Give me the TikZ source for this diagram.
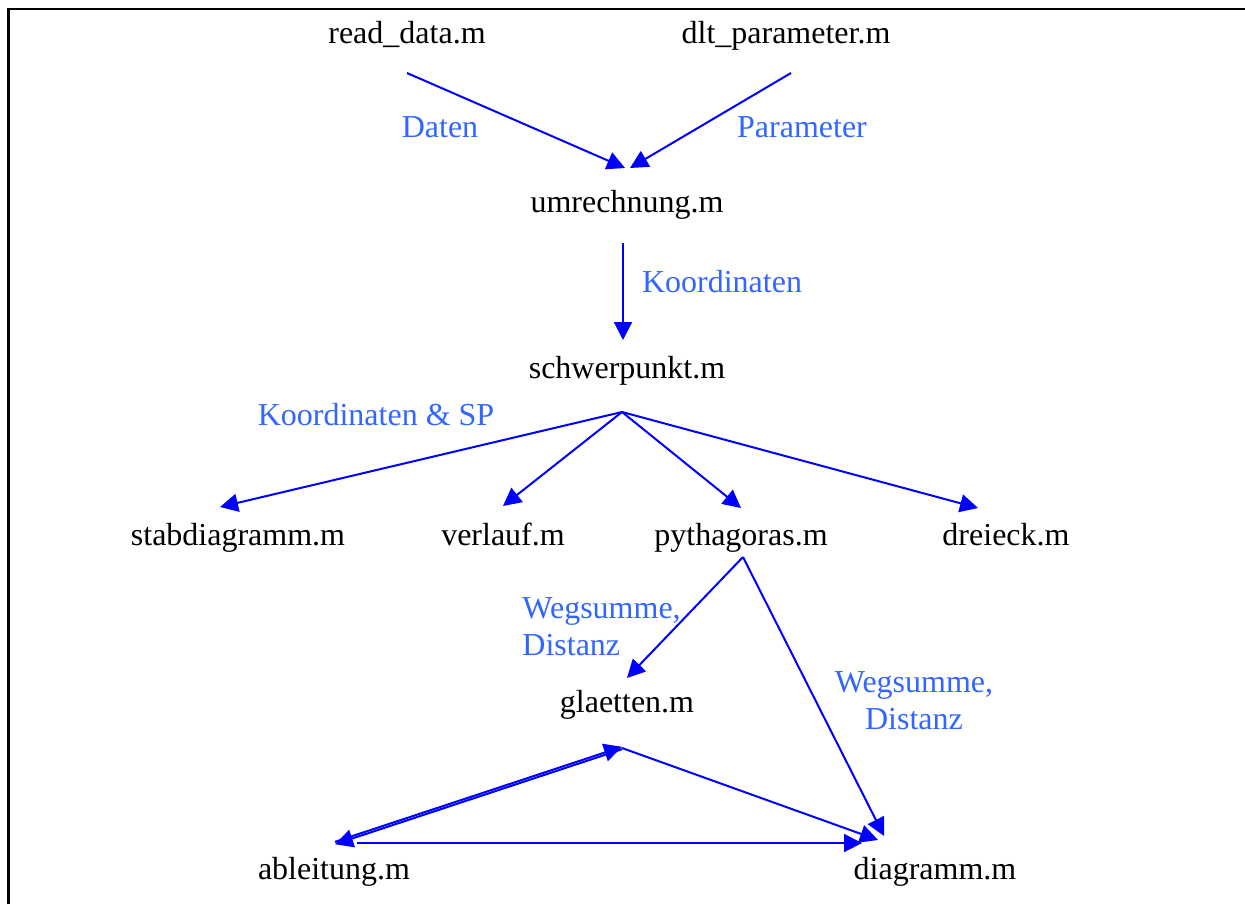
\documentclass[tikz,border=0pt]{standalone}
\usepackage{fontspec}
\setmainfont{Liberation Serif}
\usetikzlibrary{arrows.meta}
\definecolor{flow}{RGB}{0,0,255}
\definecolor{lbl}{RGB}{51,102,255}

\begin{document}
\begin{tikzpicture}[x=0.5pt,y=-0.5pt,
  file/.style={anchor=base, inner sep=0pt, font=\fontsize{16}{18.5}\selectfont},
  note/.style={file, text=lbl},
  flowline/.style={draw=flow, line width=1pt},
  arr/.style={flowline, -{Triangle[length=9pt,width=9pt]}},
  frame/.style={line width=1.3pt}]

\useasboundingbox (0,0) rectangle (1245,904);
% frame (left and top edges)
\draw[frame] (8.5,904) -- (8.5,9) -- (1245,9);

% files
\node[file] (rd)   at (407,44)  {read\_data.m};
\node[file] (dlt)  at (786,44)  {dlt\_parameter.m};
\node[file] (umr)  at (627,212) {umrechnung.m};
\node[file] (swp)  at (627,378) {schwerpunkt.m};
\node[file] (stab) at (238,545) {stabdiagramm.m};
\node[file] (verl) at (503,545) {verlauf.m};
\node[file] (pyth) at (741,545) {pythagoras.m};
\node[file] (drei) at (1006,545) {dreieck.m};
\node[file] (glae) at (627,712) {glaetten.m};
\node[file] (abl)  at (334,879) {ableitung.m};
\node[file] (diag) at (935,879) {diagramm.m};

% data labels
\node[note] (lDaten) at (440,137) {Daten};
\node[note] (lParam) at (802,137) {Parameter};
\node[note] (lKoord) at (722,292) {Koordinaten};
\node[note] (lKSP)   at (376,425) {Koordinaten \& SP};
\node[note, anchor=base west, align=left] (lWD1) at (522,655) {Wegsumme,\\Distanz};
\node[note, align=center] (lWD2) at (914,729) {Wegsumme,\\Distanz};

% connector end points
\coordinate (rdOut)   at (407,73);
\coordinate (dltOut)  at (791,73);
\coordinate (umrInA)  at (625,168);
\coordinate (umrInB)  at (630,168);
\coordinate (umrOut)  at (623,243);
\coordinate (swpIn)   at (623,340);
\coordinate (swpOut)  at (622,412);
\coordinate (stabIn)  at (220,507);
\coordinate (verlIn)  at (503,506);
\coordinate (pythIn)  at (741,508);
\coordinate (dreiIn)  at (978,508);
\coordinate (pythOut) at (743,557);
\coordinate (glaeIn)  at (627,678);
\coordinate (glaeOut) at (622,748);
\coordinate (diagInA) at (884,836);
\coordinate (diagInB) at (878,840);
\coordinate (diagInC) at (862,843);
\coordinate (ablOut)  at (357,843);
\coordinate (ablIn)   at (335,843);

% connectors
\draw[arr] (rdOut) -- (umrInA);
\draw[arr] (dltOut) -- (umrInB);
\draw[arr] (umrOut) -- (swpIn);
\draw[arr] (swpOut) -- (stabIn);
\draw[arr] (swpOut) -- (verlIn);
\draw[arr] (swpOut) -- (pythIn);
\draw[arr] (swpOut) -- (dreiIn);
\draw[arr] (pythOut) -- (glaeIn);
\draw[arr] (pythOut) -- (diagInA);
\draw[arr] (glaeOut) -- (diagInB);
\draw[arr] ([yshift=0.6pt]ablIn) -- ([yshift=0.6pt]glaeOut);
\draw[arr] ([yshift=-0.6pt]glaeOut) -- ([yshift=-0.6pt]ablIn);
\draw[arr] (ablOut) -- (diagInC);
\end{tikzpicture}
\end{document}
